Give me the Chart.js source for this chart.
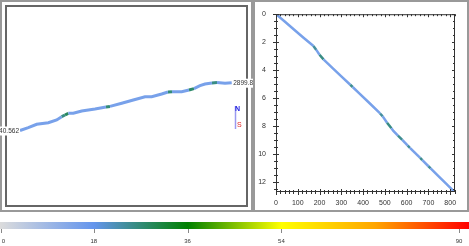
<!DOCTYPE html>
<html>
<head>
<meta charset="UTF-8">
<title>Track</title>
<script src="https://cdn.jsdelivr.net/npm/chart.js@4.4.1/dist/chart.umd.min.js"></script>
<style>
    body { margin: 0; background: #fff; }
    #wrap { position: relative; width: 469px; height: 246px; overflow: hidden; }
    canvas, .box { position: absolute; }
    canvas { z-index: 3; }
    .box { box-sizing: border-box; pointer-events: none; z-index: 1; }
    #mapOuter { left: 0; top: 0; width: 253px; height: 212px; border: 2px solid #999; }
    #mapInner { left: 5px; top: 5px; width: 243px; height: 202px; border: 2px solid #666; }
    #profOuter { left: 253px; top: 0; width: 216px; height: 212px; border: 2px solid #999; }
</style>
</head>
<body>
<div id="wrap">
    <div class="box" id="mapOuter"></div>
    <div class="box" id="mapInner"></div>
    <div class="box" id="profOuter"></div>
    <canvas id="mapChart" width="253" height="212" style="left:0;top:0;width:253px;height:212px"></canvas>
    <canvas id="profChart" width="213" height="212" style="left:254px;top:0;width:213px;height:212px"></canvas>
    <canvas id="barChart" width="469" height="28" style="left:0;top:218px;width:469px;height:28px"></canvas>
</div>
<script>
    // map track (plot units, east / north)
    const trackEast  = [15, 23.3, 31.7, 43.3, 51.7, 56.7, 60, 63.3, 68.3, 76.7, 90, 101, 105, 116.7, 128.3, 140, 146.7, 156.7, 163, 167, 176.7, 184, 189, 195, 200, 207, 212, 220, 226.7];
    const trackNorth = [76.5, 79.3, 82.7, 84.3, 87, 90.3, 92, 93.7, 93.7, 96, 98, 100, 100.6, 103.7, 107, 110.3, 110.3, 113, 115, 115.3, 115.3, 117, 118.4, 121.3, 123, 124, 124.4, 123.7, 124.3];
    const trackValue = [15, 15, 15, 15, 15, 26, 29, 15, 15, 15, 15, 27, 15, 15, 15, 15, 15, 15, 27, 15, 15, 28, 15, 15, 15, 26, 15, 15, 15];
    const trackLabels = ["40.562", "2899.8"];

    // profile: distance vs elapsed
    const profDistance = [0, 40, 81, 125, 172, 185, 200, 218, 260, 300, 341, 352, 380, 430, 478, 490, 510, 530, 539, 560, 580, 605, 615, 662, 672, 700, 710, 740, 780, 822];
    const profElapsed  = [0, 0.52, 1.07, 1.66, 2.27, 2.55, 2.9, 3.23, 3.85, 4.44, 5.04, 5.2, 5.62, 6.36, 7.09, 7.3, 7.75, 8.15, 8.34, 8.68, 8.98, 9.38, 9.54, 10.27, 10.43, 10.86, 11.01, 11.48, 12.09, 12.73];
    const profValue    = [15, 15, 15, 15, 24, 15, 26, 15, 15, 15, 25, 15, 15, 15, 24, 15, 26, 15, 15, 25, 15, 24, 15, 25, 15, 24, 15, 15, 15, 15];

    // colour scale
    const scaleStops  = [0, 18, 36, 54, 72, 90];
    const scaleColors = ["#dcdcdc", "#6495ed", "#008000", "#ffff00", "#ffa500", "#ff0000"];
    const scaleTicks  = [0, 18, 36, 54, 90];

    const FONT = "'Liberation Sans', Arial, sans-serif";

    function hexToRgb(h) {
        const n = parseInt(h.slice(1), 16);
        return [(n >> 16) & 255, (n >> 8) & 255, n & 255];
    }

    function colorFor(v) {
        for (let i = 0; i < scaleStops.length - 1; i++) {
            if (v <= scaleStops[i + 1]) {
                const t = (v - scaleStops[i]) / (scaleStops[i + 1] - scaleStops[i]);
                const a = hexToRgb(scaleColors[i]), b = hexToRgb(scaleColors[i + 1]);
                const c = a.map((x, k) => Math.round(x + (b[k] - x) * t));
                return `rgb(${c[0]},${c[1]},${c[2]})`;
            }
        }
        return scaleColors[scaleColors.length - 1];
    }

    // ---- map chart ----
    const mapDecor = {
        id: "mapDecor",
        afterDatasetsDraw(chart) {
            const ctx = chart.ctx;
            const pts = chart.getDatasetMeta(0).data;
            const first = pts[0], last = pts[pts.length - 1];
            ctx.save();
            ctx.font = "6.5px " + FONT;
            ctx.textBaseline = "middle";
            let w = ctx.measureText(trackLabels[0]).width;
            ctx.fillStyle = "#fff";
            ctx.fillRect(first.x - w - 1, first.y - 4, w + 1, 9);
            ctx.fillStyle = "#333";
            ctx.textAlign = "right";
            ctx.fillText(trackLabels[0], first.x - 1, first.y + 0.5);
            w = ctx.measureText(trackLabels[1]).width;
            ctx.fillStyle = "#fff";
            ctx.fillRect(last.x + 1, last.y - 4, w + 1, 9);
            ctx.fillStyle = "#333";
            ctx.textAlign = "left";
            ctx.fillText(trackLabels[1], last.x + 1.5, last.y + 0.5);

            // north / south marker
            const a = chart.chartArea;
            const nx = a.right - 12.5;
            ctx.strokeStyle = "#9a9af0";
            ctx.lineWidth = 1.5;
            ctx.beginPath();
            ctx.moveTo(nx, a.top + 101);
            ctx.lineTo(nx, a.top + 124);
            ctx.stroke();
            ctx.font = "bold 7px " + FONT;
            ctx.textAlign = "left";
            ctx.fillStyle = "#2020e0";
            ctx.fillText("N", nx - 0.5, a.top + 104);
            ctx.fillStyle = "#e02020";
            ctx.font = "7px " + FONT;
            ctx.fillText("S", nx + 1.5, a.top + 120.5);
            ctx.restore();
        }
    };

    new Chart(document.getElementById("mapChart"), {
        type: "scatter",
        data: {
            datasets: [{
                data: trackEast.map((e, i) => ({ x: e, y: trackNorth[i] })),
                showLine: true,
                borderWidth: 3,
                pointRadius: 0,
                borderColor: colorFor(15),
                segment: { borderColor: c => colorFor(trackValue[c.p0DataIndex]) }
            }]
        },
        options: {
            responsive: false,
            animation: false,
            layout: { padding: 5 },
            plugins: { legend: { display: false }, tooltip: { enabled: false } },
            scales: {
                x: { display: false, min: 0, max: 243 },
                y: { display: false, min: 0, max: 202 }
            }
        },
        plugins: [mapDecor]
    });

    // ---- profile chart ----
    const profFrame = {
        id: "profFrame",
        afterDraw(chart) {
            const { ctx, chartArea: a } = chart;
            const x = chart.scales.x, y = chart.scales.y;
            ctx.save();
            ctx.strokeStyle = "#333";
            ctx.lineWidth = 1;
            ctx.strokeRect(a.left + 0.5, a.top + 0.5, a.right - a.left - 1, a.bottom - a.top - 1);
            ctx.beginPath();
            for (let v = 0; v <= x.max; v += 20) {
                const px = Math.round(x.getPixelForValue(v)) + 0.5;
                const len = v % 100 === 0 ? 3 : 2;
                ctx.moveTo(px, a.bottom - len); ctx.lineTo(px, a.bottom + len);
                ctx.moveTo(px, a.top); ctx.lineTo(px, a.top + len);
            }
            for (let v = 0; v <= y.max; v += 0.5) {
                const py = Math.round(y.getPixelForValue(v)) + 0.5;
                const len = v % 2 === 0 ? 3 : 2;
                ctx.moveTo(a.left - len, py); ctx.lineTo(a.left + len, py);
                ctx.moveTo(a.right, py); ctx.lineTo(a.right - len, py);
            }
            ctx.stroke();
            ctx.restore();
        }
    };

    new Chart(document.getElementById("profChart"), {
        type: "scatter",
        data: {
            datasets: [{
                data: profDistance.map((d, i) => ({ x: d, y: profElapsed[i] })),
                showLine: true,
                borderWidth: 2.5,
                pointRadius: 0,
                borderColor: colorFor(15),
                segment: { borderColor: c => colorFor(profValue[c.p0DataIndex]) }
            }]
        },
        options: {
            responsive: false,
            animation: false,
            layout: { padding: { top: 6, right: 12, left: 0, bottom: 0 } },
            plugins: { legend: { display: false }, tooltip: { enabled: false } },
            scales: {
                x: {
                    min: 0, max: 822,
                    afterFit: s => { s.height = 20; },
                    grid: { display: false, drawTicks: false },
                    border: { display: false },
                    afterBuildTicks: s => { s.ticks = [0, 100, 200, 300, 400, 500, 600, 700, 800].map(v => ({ value: v })); },
                    ticks: { padding: 7, color: "#333", font: { family: FONT, size: 7 }, maxRotation: 0 }
                },
                y: {
                    reverse: true,
                    min: 0, max: 12.7,
                    afterFit: s => { s.width = 22; },
                    grid: { display: false, drawTicks: false },
                    border: { display: false },
                    afterBuildTicks: s => { s.ticks = [0, 2, 4, 6, 8, 10, 12].map(v => ({ value: v })); },
                    ticks: { padding: 10, color: "#333", font: { family: FONT, size: 7 } }
                }
            }
        },
        plugins: [profFrame]
    });

    // ---- colour bar ----
    const barTicks = {
        id: "barTicks",
        afterDraw(chart) {
            const { ctx, chartArea: a } = chart;
            const x = chart.scales.x;
            ctx.save();
            ctx.strokeStyle = "#888";
            ctx.lineWidth = 1;
            ctx.fillStyle = "#333";
            ctx.font = "6px " + FONT;
            ctx.textAlign = "center";
            ctx.textBaseline = "middle";
            scaleTicks.forEach(v => {
                const px = Math.min(Math.max(x.getPixelForValue(v), 1), chart.width - 10);
                ctx.beginPath();
                ctx.moveTo(Math.round(px) + 0.5, a.bottom);
                ctx.lineTo(Math.round(px) + 0.5, a.bottom + 4);
                ctx.stroke();
                const lx = Math.min(Math.max(px, 2.5), chart.width - 6);
                ctx.fillText(String(v), lx + (v === 0 ? 1 : 0), a.bottom + 12.5);
            });
            ctx.restore();
        }
    };

    new Chart(document.getElementById("barChart"), {
        type: "bar",
        data: {
            labels: [""],
            datasets: [{
                data: [[0, 90]],
                borderWidth: 0,
                barPercentage: 1,
                categoryPercentage: 1,
                backgroundColor: c => {
                    const a = c.chart.chartArea;
                    if (!a) return scaleColors[1];
                    const g = c.chart.ctx.createLinearGradient(a.left, 0, a.right, 0);
                    scaleStops.forEach((s, i) => g.addColorStop(s / 90, scaleColors[i]));
                    return g;
                }
            }]
        },
        options: {
            indexAxis: "y",
            responsive: false,
            animation: false,
            layout: { padding: { top: 4, left: 0, right: 0, bottom: 0 } },
            plugins: { legend: { display: false }, tooltip: { enabled: false } },
            scales: {
                y: { display: false },
                x: {
                    min: 0, max: 90,
                    afterFit: s => { s.height = 17; s.paddingLeft = 0; s.paddingRight = 0; },
                    border: { display: false },
                    grid: { display: false },
                    ticks: { display: false }
                }
            }
        },
        plugins: [barTicks]
    });
</script>
</body>
</html>
